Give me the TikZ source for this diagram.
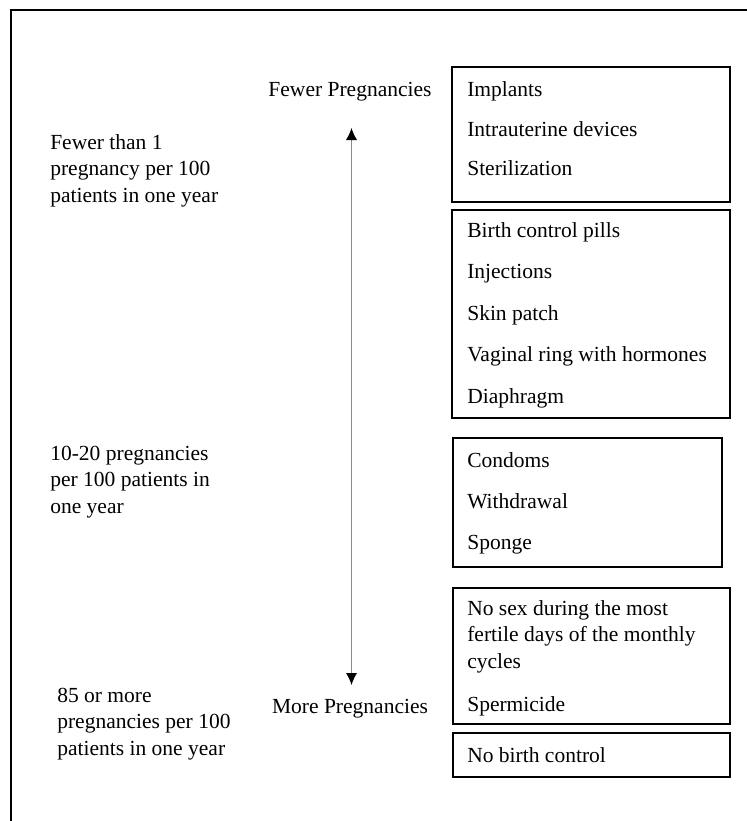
\documentclass[tikz,border=0pt]{standalone}
\usepackage{fontspec}
\setmainfont{Liberation Serif}
\usetikzlibrary{arrows.meta, positioning, fit}

\begin{document}
\begin{tikzpicture}[x=0.025cm, y=-0.025cm,
    every node/.style={font=\fontsize{15.3}{18.7}\selectfont, inner sep=0pt},
    item/.style={anchor=base west},
    rate/.style={anchor=base west, align=left},
    catbox/.style={draw, line width=1.4pt}]
    \useasboundingbox (0,0) rectangle (747,821);
    \draw[line width=1.8pt] (747,10) -- (11,10) -- (11,821);

    % method boxes
    \node[catbox, fit={(452,67) (730,202)}] (box1) {};
    \node[catbox, fit={(452,210) (730,418)}] (box2) {};
    \node[catbox, fit={(453,438) (722,567)}] (box3) {};
    \node[catbox, fit={(453,588) (730,724)}] (box4) {};
    \node[catbox, fit={(453,733) (730,777)}] (box5) {};

    \node[item] (implants) at (467,96) {Implants};
    \node[item] (iud) at (467,136) {Intrauterine devices};
    \node[item] (steril) at (467,175) {Sterilization};
    \node[item] (pills) at (467,237) {Birth control pills};
    \node[item] (inject) at (467,278.5) {Injections};
    \node[item] (patch) at (467,320) {Skin patch};
    \node[item] (ring) at (467,361.5) {Vaginal ring with hormones};
    \node[item] (diaph) at (467,403) {Diaphragm};
    \node[item] (condoms) at (467,467) {Condoms};
    \node[item] (withdraw) at (467,508) {Withdrawal};
    \node[item] (sponge) at (467,549) {Sponge};
    % base of a multi-line node is its last line
    \node[item, align=left] (nosex) at (467,668) {No sex during the most\\fertile days of the monthly\\cycles};
    \node[item] (sperm) at (467,711) {Spermicide};
    \node[item] (none) at (467,762) {No birth control};

    % rates on the left
    \node[rate] (rate1) at (50,202) {Fewer than 1\\pregnancy per 100\\patients in one year};
    \node[rate] (rate2) at (50,513) {10-20 pregnancies\\per 100 patients in\\one year};
    \node[rate] (rate3) at (57,755) {85 or more\\pregnancies per 100\\patients in one year};

    % scale arrow
    \node[anchor=base] (fewer) at (350,96) {Fewer Pregnancies};
    \node[anchor=base] (more) at (350,713) {More Pregnancies};
    \coordinate (uptip) at (351.5,128);
    \coordinate (downtip) at (351.5,685);
    \draw[black!45, line width=0.8pt, {Latex[length=0.3cm, width=0.28cm, color=black]}-{Latex[length=0.3cm, width=0.28cm, color=black]}] (uptip) -- (downtip);
\end{tikzpicture}
\end{document}
